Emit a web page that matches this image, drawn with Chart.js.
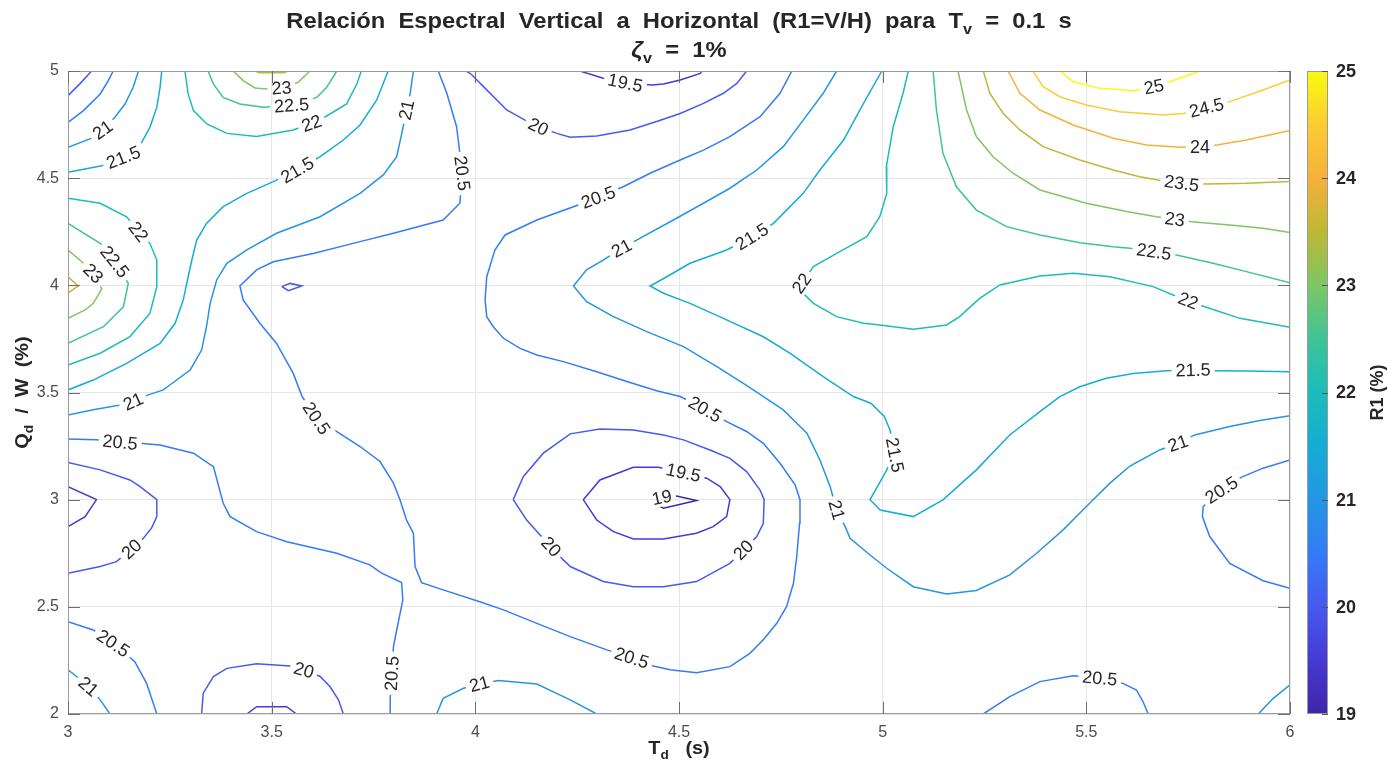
<!DOCTYPE html>
<html>
<head>
<meta charset="utf-8">
<script src="https://cdn.jsdelivr.net/npm/chart.js@4.4.1/dist/chart.umd.min.js"></script>
<style>
  html, body { margin: 0; padding: 0; background: #fff; }
</style>
</head>
<body>
<canvas id="grafica" width="1388" height="767"></canvas>
<script>
// Ejes y barra de color
const xTicks = [3, 3.5, 4, 4.5, 5, 5.5, 6];
const yTicks = [2, 2.5, 3, 3.5, 4, 4.5, 5];
const cbTicks = [19, 20, 21, 22, 23, 24, 25];
const cbMin = 19, cbMax = 25;

// Curvas de nivel: cada nivel tiene uno o varios trozos [Td, Qd/W]
const lv19 = [
  [[4.429,2.991],[4.462,2.960],[4.543,2.996],[4.494,3.017],[4.429,2.991]]
];
const lv19_5 = [
  [[4.257,5.0],[4.314,4.966],[4.368,4.945],[4.433,4.935],[4.462,4.939],[4.503,4.958],[4.552,4.989],[4.556,5.0]],
  [[3.0,3.061],[3.070,3.0],[3.042,2.921],[3.0,2.874]],
  [[3.439,2.0],[3.463,2.034],[3.537,2.034],[3.561,2.0]],
  [[4.265,3.0],[4.306,3.092],[4.388,3.151],[4.449,3.151],[4.511,3.126],[4.568,3.100],[4.601,3.061],[4.625,3.0],[4.617,2.921],[4.584,2.874],[4.543,2.843],[4.462,2.817],[4.388,2.817],[4.339,2.851],[4.298,2.905],[4.265,3.0]]
];
const lv20 = [
  [[3.0,4.885],[3.029,4.94],[3.058,5.0]],
  [[3.978,5.0],[3.99,4.985],[4.02,4.927],[4.077,4.818],[4.122,4.771],[4.155,4.740],[4.200,4.709],[4.233,4.691],[4.298,4.697],[4.380,4.725],[4.445,4.764],[4.503,4.802],[4.560,4.849],[4.609,4.896],[4.642,4.942],[4.666,5.0]],
  [[3.525,3.994],[3.545,4.009],[3.574,3.997],[3.541,3.975],[3.525,3.994]],
  [[3.0,3.173],[3.079,3.139],[3.152,3.092],[3.177,3.061],[3.218,3.0],[3.218,2.921],[3.205,2.867],[3.185,2.820],[3.156,2.769],[3.119,2.711],[3.079,2.688],[3.0,2.657]],
  [[3.328,2.0],[3.332,2.097],[3.357,2.175],[3.390,2.213],[3.463,2.234],[3.545,2.224],[3.579,2.205],[3.619,2.175],[3.643,2.128],[3.664,2.066],[3.676,2.0]],
  [[4.093,3.0],[4.118,3.108],[4.167,3.217],[4.233,3.307],[4.306,3.330],[4.388,3.325],[4.462,3.302],[4.511,3.279],[4.576,3.232],[4.625,3.193],[4.666,3.131],[4.699,3.045],[4.709,3.0],[4.707,2.890],[4.691,2.828],[4.658,2.765],[4.625,2.703],[4.543,2.618],[4.462,2.594],[4.388,2.594],[4.314,2.618],[4.233,2.688],[4.216,2.719],[4.186,2.781],[4.159,2.835],[4.126,2.905],[4.093,3.0]]
];
const lv20_5 = [
  [[3.0,4.76],[3.038,4.815],[3.079,4.893],[3.099,4.955],[3.111,5.0]],
  [[3.909,5.0],[3.930,4.896],[3.954,4.740],[3.968,4.523],[3.962,4.383],[3.921,4.305],[3.799,4.243],[3.717,4.204],[3.602,4.149],[3.504,4.110],[3.463,4.072],[3.422,3.997],[3.430,3.932],[3.471,3.823],[3.512,3.729],[3.553,3.589],[3.575,3.48],[3.610,3.380],[3.660,3.318],[3.717,3.248],[3.766,3.178],[3.799,3.077],[3.815,3.0],[3.831,2.905],[3.848,2.843],[3.852,2.688],[3.868,2.613],[3.921,2.579],[4.011,2.524],[4.069,2.486],[4.151,2.423],[4.233,2.361],[4.323,2.299],[4.384,2.262],[4.437,2.224],[4.478,2.206],[4.543,2.193],[4.625,2.221],[4.674,2.283],[4.707,2.346],[4.740,2.423],[4.764,2.501],[4.781,2.610],[4.789,2.734],[4.796,2.890],[4.797,3.0],[4.785,3.069],[4.748,3.170],[4.707,3.263],[4.666,3.318],[4.617,3.364],[4.564,3.422],[4.503,3.481],[4.445,3.508],[4.372,3.551],[4.298,3.597],[4.216,3.644],[4.151,3.675],[4.110,3.706],[4.069,3.753],[4.044,3.807],[4.028,3.854],[4.024,3.932],[4.028,4.040],[4.048,4.165],[4.073,4.235],[4.151,4.305],[4.241,4.367],[4.302,4.411],[4.363,4.460],[4.429,4.523],[4.503,4.585],[4.560,4.631],[4.625,4.694],[4.699,4.787],[4.748,4.896],[4.777,5.0]],
  [[3.0,3.283],[3.070,3.279],[3.128,3.268],[3.177,3.263],[3.226,3.255],[3.308,3.217],[3.357,3.154],[3.381,2.983],[3.398,2.921],[3.463,2.851],[3.537,2.804],[3.660,2.750],[3.741,2.696],[3.770,2.657],[3.819,2.613],[3.822,2.532],[3.807,2.392],[3.799,2.314],[3.795,2.190],[3.791,2.073],[3.791,2.0]],
  [[3.0,2.431],[3.062,2.392],[3.111,2.330],[3.164,2.244],[3.193,2.143],[3.218,2.0]],
  [[6.0,3.185],[5.934,3.147],[5.881,3.105],[5.832,3.045],[5.787,2.968],[5.785,2.921],[5.803,2.828],[5.852,2.703],[5.934,2.622],[6.0,2.587]],
  [[5.247,2.0],[5.312,2.081],[5.386,2.151],[5.468,2.178],[5.533,2.167],[5.590,2.143],[5.623,2.112],[5.639,2.058],[5.652,2.0]]
];
const lv21 = [
  [[3.0,4.644],[3.054,4.683],[3.085,4.725],[3.115,4.784],[3.140,4.846],[3.160,4.924],[3.173,5.0]],
  [[3.848,5.0],[3.840,4.896],[3.831,4.818],[3.823,4.740],[3.807,4.600],[3.774,4.515],[3.717,4.429],[3.619,4.320],[3.512,4.243],[3.439,4.165],[3.390,4.103],[3.365,4.025],[3.349,3.916],[3.340,3.807],[3.328,3.698],[3.300,3.605],[3.250,3.535],[3.234,3.512],[3.197,3.489],[3.160,3.458],[3.128,3.442],[3.062,3.419],[3.0,3.395]],
  [[4.887,5.0],[4.854,4.896],[4.805,4.771],[4.756,4.647],[4.691,4.538],[4.625,4.453],[4.560,4.383],[4.494,4.313],[4.396,4.211],[4.359,4.173],[4.314,4.118],[4.273,4.072],[4.241,3.997],[4.273,3.924],[4.339,3.854],[4.421,3.784],[4.511,3.714],[4.593,3.621],[4.658,3.543],[4.700,3.490],[4.756,3.419],[4.814,3.310],[4.846,3.185],[4.871,3.061],[4.887,2.952],[4.908,2.874],[4.920,2.820],[4.969,2.742],[5.010,2.680],[5.075,2.594],[5.157,2.560],[5.230,2.576],[5.312,2.649],[5.378,2.750],[5.443,2.859],[5.500,2.968],[5.558,3.077],[5.607,3.157],[5.680,3.232],[5.725,3.263],[5.766,3.302],[5.852,3.341],[5.926,3.369],[6.0,3.392]],
  [[3.0,2.206],[3.021,2.175],[3.050,2.128],[3.079,2.066],[3.103,2.0]],
  [[3.905,2.0],[3.921,2.073],[3.971,2.120],[4.010,2.140],[4.057,2.156],[4.151,2.140],[4.233,2.066],[4.298,2.0]],
  [[5.922,2.0],[5.959,2.073],[6.0,2.136]]
];
const lv21_5 = [
  [[3.0,4.527],[3.083,4.558],[3.136,4.597],[3.181,4.667],[3.201,4.737],[3.218,4.830],[3.226,4.924],[3.230,5.0]],
  [[3.786,5.0],[3.758,4.865],[3.717,4.748],[3.676,4.678],[3.619,4.600],[3.563,4.538],[3.504,4.484],[3.439,4.429],[3.381,4.367],[3.340,4.289],[3.316,4.211],[3.304,4.118],[3.295,4.040],[3.283,3.932],[3.263,3.823],[3.226,3.729],[3.144,3.636],[3.062,3.558],[3.0,3.512]],
  [[4.998,5.0],[4.953,4.849],[4.904,4.678],[4.846,4.538],[4.805,4.429],[4.732,4.289],[4.679,4.227],[4.617,4.165],[4.527,4.103],[4.470,4.040],[4.429,3.997],[4.462,3.963],[4.527,3.916],[4.609,3.846],[4.707,3.760],[4.773,3.683],[4.854,3.574],[4.928,3.481],[4.971,3.450],[5.004,3.388],[5.018,3.325],[5.030,3.209],[5.001,3.108],[4.969,3.0],[4.994,2.952],[5.075,2.921],[5.148,2.999],[5.230,3.139],[5.312,3.302],[5.386,3.411],[5.435,3.481],[5.484,3.527],[5.549,3.566],[5.615,3.589],[5.697,3.602],[5.762,3.605],[5.820,3.602],[5.893,3.600],[6.0,3.597]]
];
const lv22 = [
  [[3.287,5.0],[3.295,4.893],[3.308,4.815],[3.341,4.753],[3.390,4.709],[3.463,4.694],[3.553,4.725],[3.598,4.756],[3.635,4.790],[3.684,4.846],[3.709,4.939],[3.72,5.0]],
  [[3.0,4.406],[3.079,4.383],[3.144,4.320],[3.173,4.250],[3.201,4.196],[3.218,4.118],[3.218,3.994],[3.201,3.869],[3.152,3.761],[3.079,3.683],[3.0,3.628]],
  [[5.063,5.0],[5.050,4.896],[5.026,4.740],[5.009,4.554],[5.010,4.429],[4.993,4.320],[4.961,4.227],[4.887,4.149],[4.830,4.087],[4.801,4.009],[4.805,3.963],[4.830,3.916],[4.887,3.854],[4.953,3.823],[4.993,3.815],[5.075,3.795],[5.157,3.815],[5.189,3.854],[5.238,3.939],[5.288,4.002],[5.386,4.044],[5.468,4.056],[5.558,4.040],[5.664,3.994],[5.713,3.955],[5.750,3.928],[5.791,3.900],[5.877,3.846],[6.0,3.804]]
];
const lv22_5 = [
  [[3.344,5.0],[3.357,4.939],[3.381,4.877],[3.422,4.846],[3.479,4.831],[3.549,4.840],[3.611,4.877],[3.635,4.924],[3.660,5.0]],
  [[3.0,4.289],[3.079,4.196],[3.115,4.110],[3.148,4.009],[3.136,3.900],[3.087,3.807],[3.0,3.729]],
  [[5.124,5.0],[5.132,4.818],[5.148,4.616],[5.181,4.460],[5.230,4.351],[5.304,4.274],[5.386,4.235],[5.484,4.199],[5.566,4.180],[5.607,4.173],[5.666,4.157],[5.721,4.142],[5.811,4.103],[5.893,4.064],[6.0,4.012]]
];
const lv23 = [
  [[3.406,5.0],[3.430,4.955],[3.459,4.921],[3.488,4.916],[3.524,4.921],[3.565,4.947],[3.594,5.0]],
  [[3.0,4.165],[3.034,4.110],[3.062,4.056],[3.083,3.983],[3.062,3.916],[3.042,3.885],[3.0,3.846]],
  [[5.185,5.0],[5.206,4.818],[5.230,4.694],[5.271,4.600],[5.320,4.523],[5.386,4.445],[5.500,4.383],[5.599,4.344],[5.672,4.320],[5.717,4.308],[5.758,4.297],[5.852,4.281],[5.934,4.266],[6.0,4.247]]
];
const lv23_5 = [
  [[3.459,5.0],[3.47,4.992],[3.53,4.992],[3.54,5.0]],
  [[3.0,4.040],[3.025,3.997],[3.0,3.963]],
  [[5.247,5.0],[5.263,4.896],[5.296,4.802],[5.337,4.725],[5.394,4.647],[5.484,4.585],[5.566,4.538],[5.631,4.507],[5.676,4.491],[5.734,4.476],[5.795,4.473],[5.893,4.476],[6.0,4.484]]
];
const lv24 = [
  [[5.308,5.0],[5.337,4.896],[5.386,4.818],[5.468,4.748],[5.566,4.686],[5.648,4.655],[5.730,4.644],[5.779,4.644],[5.820,4.655],[5.893,4.678],[6.0,4.722]]
];
const lv24_5 = [
  [[5.369,5.0],[5.394,4.927],[5.435,4.880],[5.500,4.841],[5.582,4.810],[5.689,4.795],[5.738,4.802],[5.795,4.829],[5.852,4.857],[5.934,4.911],[6.0,4.958]]
];
const lv25 = [
  [[5.435,5.0],[5.468,4.950],[5.533,4.919],[5.615,4.908],[5.666,4.927],[5.705,4.950],[5.779,5.0]]
];

// Etiquetas en línea: [nivel, Td, Qd/W]
const etiquetas = [
  [19, 4.458, 3.011],
  [19.5, 4.368, 4.945], [19.5, 4.511, 3.126],
  [20, 4.155, 4.740], [20, 3.156, 2.769], [20, 3.579, 2.205], [20, 4.658, 2.765], [20, 4.186, 2.781],
  [20.5, 3.968, 4.523], [20.5, 3.610, 3.380], [20.5, 4.384, 2.262], [20.5, 4.564, 3.422], [20.5, 4.302, 4.411],
  [20.5, 3.128, 3.268], [20.5, 3.795, 2.190], [20.5, 3.111, 2.330], [20.5, 5.832, 3.045], [20.5, 5.533, 2.167],
  [21, 3.085, 4.725], [21, 3.831, 4.818], [21, 3.160, 3.458], [21, 4.359, 4.173], [21, 4.887, 2.952],
  [21, 5.725, 3.263], [21, 3.050, 2.128], [21, 4.010, 2.140],
  [21.5, 3.136, 4.597], [21.5, 3.563, 4.538], [21.5, 4.679, 4.227], [21.5, 5.030, 3.209], [21.5, 5.762, 3.605],
  [22, 3.598, 4.756], [22, 3.173, 4.250], [22, 4.801, 4.009], [22, 5.750, 3.928],
  [22.5, 3.549, 4.840], [22.5, 3.115, 4.110], [22.5, 5.666, 4.157],
  [23, 3.524, 4.921], [23, 3.062, 4.056], [23, 5.717, 4.308],
  [23.5, 5.734, 4.476],
  [24, 5.779, 4.644],
  [24.5, 5.795, 4.829],
  [25, 5.666, 4.927]
];

const niveles = [
  [19, lv19], [19.5, lv19_5], [20, lv20], [20.5, lv20_5], [21, lv21], [21.5, lv21_5],
  [22, lv22], [22.5, lv22_5], [23, lv23], [23.5, lv23_5], [24, lv24], [24.5, lv24_5], [25, lv25]
];

// Mapa de color tipo parula
const parula = [
  [0.000, 62, 38, 168],
  [0.083, 70, 58, 212],
  [0.167, 70, 90, 240],
  [0.250, 52, 124, 245],
  [0.333, 36, 150, 228],
  [0.417, 22, 172, 212],
  [0.500, 28, 188, 188],
  [0.583, 62, 196, 150],
  [0.667, 126, 198, 100],
  [0.750, 190, 184, 52],
  [0.833, 246, 176, 60],
  [0.917, 252, 204, 52],
  [1.000, 249, 251, 14]
];

function colorNivel(v) {
  const t = Math.min(1, Math.max(0, (v - cbMin) / (cbMax - cbMin)));
  for (let i = 0; i < parula.length - 1; i++) {
    const a = parula[i], b = parula[i + 1];
    if (t <= b[0]) {
      const f = (t - a[0]) / (b[0] - a[0]);
      const c = [1, 2, 3].map(k => Math.round(a[k] + (b[k] - a[k]) * f));
      return `rgb(${c[0]},${c[1]},${c[2]})`;
    }
  }
  return 'rgb(249,251,14)';
}

const fuente = '"Liberation Sans", Arial, Helvetica, sans-serif';
const tamEtiqueta = 18;

const datasets = [];
niveles.forEach(([nivel, trozos]) => {
  trozos.forEach(trozo => {
    datasets.push({
      nivel: nivel,
      data: trozo.map(([x, y]) => ({ x, y })),
      showLine: true,
      borderColor: colorNivel(nivel),
      borderWidth: 1.5,
      pointRadius: 0,
      pointHoverRadius: 0,
      tension: 0,
      fill: false
    });
  });
});

// posición, ángulo y tamaño de cada etiqueta en píxeles
function geometriaEtiquetas(chart) {
  const sx = chart.scales.x, sy = chart.scales.y, ctx = chart.ctx;
  ctx.font = `${tamEtiqueta}px ${fuente}`;
  return etiquetas.map(([nivel, x, y]) => {
    const px = sx.getPixelForValue(x), py = sy.getPixelForValue(y);
    let dir = [1, 0], dmin = Infinity;
    chart.data.datasets.forEach(ds => {
      if (ds.nivel !== nivel) return;
      for (let i = 0; i < ds.data.length - 1; i++) {
        const ax = sx.getPixelForValue(ds.data[i].x), ay = sy.getPixelForValue(ds.data[i].y);
        const bx = sx.getPixelForValue(ds.data[i + 1].x), by = sy.getPixelForValue(ds.data[i + 1].y);
        const dx = bx - ax, dy = by - ay, l2 = dx * dx + dy * dy || 1;
        const t = Math.max(0, Math.min(1, ((px - ax) * dx + (py - ay) * dy) / l2));
        const d = Math.hypot(ax + t * dx - px, ay + t * dy - py);
        if (d < dmin) { dmin = d; dir = [dx, dy]; }
      }
    });
    let ang = Math.atan2(dir[1], dir[0]);
    if (ang > Math.PI / 2) ang -= Math.PI;
    else if (ang <= -Math.PI / 2) ang += Math.PI;
    const texto = String(nivel);
    return { px, py, ang, texto, w: ctx.measureText(texto).width };
  });
}

// texto con subíndices: partes = [[texto, 'sub' | 'it' | '']], esc = estiramiento horizontal
function textoRico(ctx, partes, x, y, tam, esc) {
  const fnt = tipo => tipo === 'sub' ? `bold ${Math.round(tam * 0.68)}px ${fuente}`
    : tipo === 'it' ? `italic bold ${tam}px ${fuente}` : `bold ${tam}px ${fuente}`;
  let total = 0;
  partes.forEach(([t, tipo]) => { ctx.font = fnt(tipo); total += ctx.measureText(t).width; });
  ctx.save();
  ctx.translate(x, y);
  ctx.scale(esc, 1);
  let cx = -total / 2;
  ctx.textAlign = 'left';
  ctx.textBaseline = 'alphabetic';
  partes.forEach(([t, tipo]) => {
    ctx.font = fnt(tipo);
    ctx.fillText(t, cx, tipo === 'sub' ? tam * 0.28 : 0);
    cx += ctx.measureText(t).width;
  });
  ctx.restore();
}

const pluginContornos = {
  id: 'contornos',
  beforeDatasetsDraw(chart) {
    const { ctx, chartArea: a } = chart;
    const geo = geometriaEtiquetas(chart);
    chart.$etiquetas = geo;
    // recorta las líneas donde van las etiquetas
    ctx.save();
    ctx.beginPath();
    ctx.rect(a.left, a.top, a.right - a.left, a.bottom - a.top);
    geo.forEach(g => {
      const hw = g.w / 2 + 4, hh = 9;
      const c = Math.cos(g.ang), s = Math.sin(g.ang);
      const pts = [[-hw, -hh], [hw, -hh], [hw, hh], [-hw, hh]]
        .map(([u, v]) => [g.px + u * c - v * s, g.py + u * s + v * c]);
      ctx.moveTo(pts[0][0], pts[0][1]);
      for (let i = 1; i < 4; i++) ctx.lineTo(pts[i][0], pts[i][1]);
      ctx.closePath();
    });
    ctx.clip('evenodd');
  },
  afterDatasetsDraw(chart) {
    const ctx = chart.ctx;
    ctx.restore();
    ctx.save();
    ctx.fillStyle = '#262626';
    ctx.font = `${tamEtiqueta}px ${fuente}`;
    ctx.textAlign = 'center';
    ctx.textBaseline = 'middle';
    chart.$etiquetas.forEach(g => {
      ctx.save();
      ctx.translate(g.px, g.py);
      ctx.rotate(g.ang);
      ctx.fillText(g.texto, 0, 1);
      ctx.restore();
    });
    ctx.restore();
  },
  afterDraw(chart) {
    const { ctx, chartArea: a, scales } = chart;
    ctx.save();

    // marco y marcas hacia dentro
    ctx.strokeStyle = '#9a9a9a';
    ctx.lineWidth = 1;
    ctx.strokeRect(a.left + 0.5, a.top + 0.5, a.right - a.left - 1, a.bottom - a.top - 1);
    ctx.strokeStyle = '#6e6e6e';
    ctx.beginPath();
    xTicks.forEach(v => {
      const p = Math.round(scales.x.getPixelForValue(v)) + 0.5;
      ctx.moveTo(p, a.bottom); ctx.lineTo(p, a.bottom - 12);
      ctx.moveTo(p, a.top); ctx.lineTo(p, a.top + 12);
    });
    yTicks.forEach(v => {
      const p = Math.round(scales.y.getPixelForValue(v)) + 0.5;
      ctx.moveTo(a.left, p); ctx.lineTo(a.left + 12, p);
      ctx.moveTo(a.right, p); ctx.lineTo(a.right - 12, p);
    });
    ctx.stroke();

    // barra de color
    const bx = a.right + 17, bw = 21;
    const grad = ctx.createLinearGradient(0, a.bottom, 0, a.top);
    parula.forEach(([t, r, g, b]) => grad.addColorStop(t, `rgb(${r},${g},${b})`));
    ctx.fillStyle = grad;
    ctx.fillRect(bx, a.top, bw, a.bottom - a.top);
    ctx.strokeStyle = '#9a9a9a';
    ctx.strokeRect(bx + 0.5, a.top + 0.5, bw - 1, a.bottom - a.top - 1);
    ctx.strokeStyle = '#555';
    ctx.fillStyle = '#262626';
    ctx.font = `bold 18px ${fuente}`;
    ctx.textAlign = 'left';
    ctx.textBaseline = 'middle';
    cbTicks.forEach(v => {
      const p = a.bottom - (v - cbMin) / (cbMax - cbMin) * (a.bottom - a.top);
      const pr = Math.round(p) + 0.5;
      ctx.beginPath();
      ctx.moveTo(bx + bw - 6, pr); ctx.lineTo(bx + bw, pr);
      ctx.stroke();
      ctx.fillText(String(v), bx + bw + 8, p + 1);
    });

    // títulos
    ctx.fillStyle = '#262626';
    const cx = (a.left + a.right) / 2;
    textoRico(ctx, [['Relación  Espectral  Vertical  a  Horizontal  (R1=V/H)  para  T', ''], ['v', 'sub'], ['  =  0.1  s', '']], cx, 28, 22, 1.08);
    textoRico(ctx, [['ζ', 'it'], ['v', 'sub'], ['  =  1%', '']], cx, 57, 22, 1.08);
    textoRico(ctx, [['T', ''], ['d', 'sub'], ['   (s)', '']], cx, 754, 19, 1.05);

    ctx.save();
    ctx.translate(28, (a.top + a.bottom) / 2);
    ctx.rotate(-Math.PI / 2);
    textoRico(ctx, [['Q', ''], ['d', 'sub'], ['  /  W  (%)', '']], 0, 0, 19, 1.05);
    ctx.restore();

    ctx.save();
    ctx.translate(1383, (a.top + a.bottom) / 2);
    ctx.rotate(-Math.PI / 2);
    textoRico(ctx, [['R1 (%)', '']], 0, 0, 18, 1.0);
    ctx.restore();

    ctx.restore();
  }
};

new Chart(document.getElementById('grafica'), {
  type: 'scatter',
  data: { datasets },
  plugins: [pluginContornos],
  options: {
    responsive: false,
    animation: false,
    events: [],
    layout: { padding: { top: 71, right: 98, left: 0, bottom: 0 } },
    plugins: {
      legend: { display: false },
      tooltip: { enabled: false },
      title: { display: false }
    },
    scales: {
      x: {
        type: 'linear',
        min: 3, max: 6,
        afterBuildTicks: s => { s.ticks = xTicks.map(v => ({ value: v })); },
        afterFit: s => { s.height = 53; },
        grid: { color: '#e6e6e6', drawTicks: false },
        border: { display: false },
        ticks: {
          padding: 9,
          color: '#4d4d4d',
          font: { family: fuente, size: 16 },
          callback: v => String(v)
        }
      },
      y: {
        type: 'linear',
        min: 2, max: 5,
        afterBuildTicks: s => { s.ticks = yTicks.map(v => ({ value: v })); },
        afterFit: s => { s.width = 68; },
        grid: { color: '#e6e6e6', drawTicks: false },
        border: { display: false },
        ticks: {
          padding: 9,
          color: '#4d4d4d',
          font: { family: fuente, size: 16 },
          callback: v => String(v)
        }
      }
    }
  }
});
</script>
</body>
</html>
